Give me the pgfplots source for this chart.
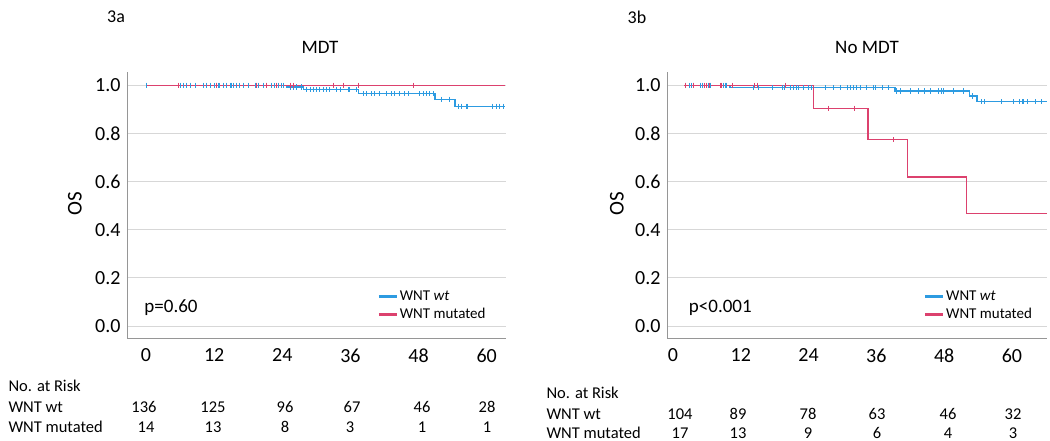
\documentclass[border=0pt]{standalone}
\usepackage{fontspec}
\setmainfont{Carlito}
\usepackage{pgfplots}
\pgfplotsset{compat=1.18}
\usepackage{pgfplotstable}
\definecolor{kmblue}{RGB}{45,155,225}
\definecolor{kmred}{RGB}{220,65,110}
\definecolor{gridc}{RGB}{215,215,215}
\definecolor{axc}{RGB}{150,150,150}

% ---- left panel (MDT) ----
\pgfplotstableread{
x y
0 1.0
24.8 0.993
27.8 0.982
37.4 0.965
50.9 0.942
54.4 0.913
63.3 0.913
}\Lblue
\pgfplotstableread{
x y
0 1.0
63.3 1.0
}\Lred
\pgfplotstableread{
x y
0 1.0
5.99 1.0
6.57 1.0
7.16 1.0
7.75 1.0
8.63 1.0
10.1 1.0
10.7 1.0
11.3 1.0
12.1 1.0
12.4 1.0
12.7 1.0
13.0 1.0
13.6 1.0
14.2 1.0
14.8 1.0
15.1 1.0
15.4 1.0
15.9 1.0
16.5 1.0
17.1 1.0
18.0 1.0
19.2 1.0
19.8 1.0
20.7 1.0
21.2 1.0
22.1 1.0
22.7 1.0
23.3 1.0
23.9 1.0
24.2 1.0
25.4 0.993
25.9 0.993
26.5 0.993
27.4 0.993
28.3 0.982
28.9 0.982
29.5 0.982
30.0 0.982
30.6 0.982
31.2 0.982
31.8 0.982
32.4 0.982
33.6 0.982
34.2 0.982
35.6 0.982
35.9 0.982
37.1 0.982
38.3 0.965
38.8 0.965
39.7 0.965
40.3 0.965
41.2 0.965
42.4 0.965
43.2 0.965
43.8 0.965
44.7 0.965
45.6 0.965
46.2 0.965
48.2 0.965
48.8 0.965
49.4 0.965
50.0 0.965
50.6 0.965
52.1 0.942
53.5 0.942
55.0 0.913
55.6 0.913
56.4 0.913
56.7 0.913
61.1 0.913
61.7 0.913
62.3 0.913
62.9 0.913
}\Lbluec
\pgfplotstableread{
x y
5.69 1.0
12.4 1.0
19.5 1.0
21.2 1.0
23.0 1.0
25.4 1.0
25.9 1.0
33.0 1.0
34.7 1.0
37.4 1.0
47.1 1.0
}\Lredc

% ---- right panel (No MDT) ----
\pgfplotstableread{
x y
2.0 1.0
10.1 0.99
39.3 0.976
52.5 0.955
53.8 0.932
66.2 0.932
}\Rblue
\pgfplotstableread{
x y
2.0 1.0
24.8 0.904
34.5 0.774
41.5 0.619
52.0 0.466
66.2 0.466
}\Rred
\pgfplotstableread{
x y
2.24 1.0
3.0 1.0
3.3 1.0
3.6 1.0
4.78 1.0
5.25 1.0
6.25 1.0
6.55 1.0
8.9 1.0
9.26 1.0
9.5 1.0
14.2 0.99
15.1 0.99
17.6 0.99
19.3 0.99
19.8 0.99
20.8 0.99
21.3 0.99
21.8 0.99
22.2 0.99
23.1 0.99
24.0 0.99
24.6 0.99
27.0 0.99
28.4 0.99
29.6 0.99
30.8 0.99
31.4 0.99
32.0 0.99
32.5 0.99
33.1 0.99
34.3 0.99
35.5 0.99
35.8 0.99
37.0 0.99
38.1 0.99
39.5 0.976
40.2 0.976
42.0 0.976
43.4 0.976
44.6 0.976
45.5 0.976
47.0 0.976
47.6 0.976
47.9 0.976
49.6 0.976
51.4 0.976
53.0 0.955
54.6 0.932
55.2 0.932
58.2 0.932
60.2 0.932
61.4 0.932
61.8 0.932
62.0 0.932
62.7 0.932
64.1 0.932
65.3 0.932
}\Rbluec
\pgfplotstableread{
x y
2.24 1.0
3.6 1.0
5.66 1.0
5.96 1.0
6.43 1.0
8.32 1.0
8.5 1.0
10.55 1.0
14.4 1.0
15.0 1.0
19.9 1.0
27.5 0.904
32.2 0.904
39.0 0.774
}\Rredc

\pgfplotsset{kmaxis/.style={
  scale only axis, height=266pt,
  ymin=-0.05, ymax=1.055,
  axis x line=bottom, axis y line=left,
  axis line style={-, axc, line width=0.8pt},
  ymajorgrids, grid style={gridc, line width=0.8pt},
  major tick length=0pt,
  xtick={0,12,24,36,48,60}, ytick={0,0.2,0.4,0.6,0.8,1.0},
  yticklabel style={/pgf/number format/fixed, /pgf/number format/fixed zerofill,
     /pgf/number format/precision=1, /pgf/number format/assume math mode=true},
  xticklabel style={/pgf/number format/assume math mode=true},
  tick label style={font=\fontsize{20}{24}\selectfont, black},
  yticklabel style={xshift=-3pt},
  xticklabel style={yshift=-7pt},
  clip=false,
  legend cell align=left,
  legend image code/.code={\draw[##1, line width=3pt] (0pt,0pt) -- (18pt,0pt);},
  legend style={draw=none, fill=none, font=\fontsize{15}{18}\selectfont,
     anchor=north west, inner sep=0pt, row sep=3.5pt, nodes={inner sep=1.5pt}},
  kmline/.style={const plot, line width=1.2pt, draw=##1},
  kmcens/.style={only marks, mark=|, mark size=2.6pt, color=##1,
     mark options={line width=1pt, draw=##1}},
}}

\begin{document}
\begin{tikzpicture}
\useasboundingbox (0pt,0pt) rectangle (1050pt,441pt);

\begin{axis}[kmaxis, width=379pt, at={(127pt,103pt)}, anchor=south west,
  xmin=-3.35, xmax=63.4,
  legend style={at={(0.66,0.185)}}]
\addlegendimage{kmblue}
\addlegendentry{WNT \textit{wt}}
\addlegendimage{kmred}
\addlegendentry{WNT mutated}
\addplot[kmline=kmblue, forget plot] table[x=x,y=y] {\Lblue};
\addplot[kmline=kmred, forget plot] table[x=x,y=y] {\Lred};
\addplot[kmcens=kmblue, forget plot] table[x=x,y=y] {\Lbluec};
\addplot[kmcens=kmred, forget plot] table[x=x,y=y] {\Lredc};
\node[anchor=west, font=\fontsize{19}{22}\selectfont] at (axis cs:-0.9,0.075) {p=0.60};
\end{axis}

\begin{axis}[kmaxis, width=380pt, at={(667pt,103pt)}, anchor=south west,
  xmin=-1.06, xmax=66.2,
  legend style={at={(0.675,0.185)}}]
\addlegendimage{kmblue}
\addlegendentry{WNT \textit{wt}}
\addlegendimage{kmred}
\addlegendentry{WNT mutated}
\addplot[kmline=kmblue, forget plot] table[x=x,y=y] {\Rblue};
\addplot[kmline=kmred, forget plot] table[x=x,y=y] {\Rred};
\addplot[kmcens=kmblue, forget plot] table[x=x,y=y] {\Rbluec};
\addplot[kmcens=kmred, forget plot] table[x=x,y=y] {\Rredc};
\node[anchor=west, font=\fontsize{19}{22}\selectfont] at (axis cs:2.2,0.075) {p<0.001};
\end{axis}

% panel labels, titles, y labels
\node[font=\fontsize{18}{22}\selectfont] at (116pt,424pt) {3a};
\node[font=\fontsize{18}{22}\selectfont] at (637pt,424pt) {3b};
\node[font=\fontsize{19}{22}\selectfont] at (320pt,394pt) {MDT};
\node[font=\fontsize{19}{22}\selectfont] at (867pt,394pt) {No MDT};
\node[font=\fontsize{21}{24}\selectfont, rotate=90] at (75pt,237pt) {OS};
\node[font=\fontsize{21}{24}\selectfont, rotate=90] at (617pt,237pt) {OS};

% risk table left
\begin{scope}[every node/.style={font=\fontsize{16.5}{20}\selectfont}]
\node[anchor=west] at (5pt,55pt) {No. at Risk};
\node[anchor=west] at (5pt,34pt) {WNT wt};
\node[anchor=west] at (5pt,14pt) {WNT mutated};
\node at (144pt,34pt) {136};
\node at (213pt,34pt) {125};
\node at (285pt,34pt) {96};
\node at (352pt,34pt) {67};
\node at (422pt,34pt) {46};
\node at (487pt,34pt) {28};
\node at (146pt,14pt) {14};
\node at (213pt,14pt) {13};
\node at (285pt,14pt) {8};
\node at (350pt,14pt) {3};
\node at (422pt,14pt) {1};
\node at (487pt,14pt) {1};
% risk table right
\node[anchor=west] at (543pt,48pt) {No. at Risk};
\node[anchor=west] at (543pt,27pt) {WNT wt};
\node[anchor=west] at (543pt,8pt) {WNT mutated};
\node at (680pt,27pt) {104};
\node at (738pt,27pt) {89};
\node at (808pt,27pt) {78};
\node at (877pt,27pt) {63};
\node at (948pt,27pt) {46};
\node at (1013pt,27pt) {32};
\node at (680pt,8pt) {17};
\node at (738pt,8pt) {13};
\node at (808pt,8pt) {9};
\node at (877pt,8pt) {6};
\node at (948pt,8pt) {4};
\node at (1013pt,8pt) {3};
\end{scope}
\end{tikzpicture}
\end{document}
